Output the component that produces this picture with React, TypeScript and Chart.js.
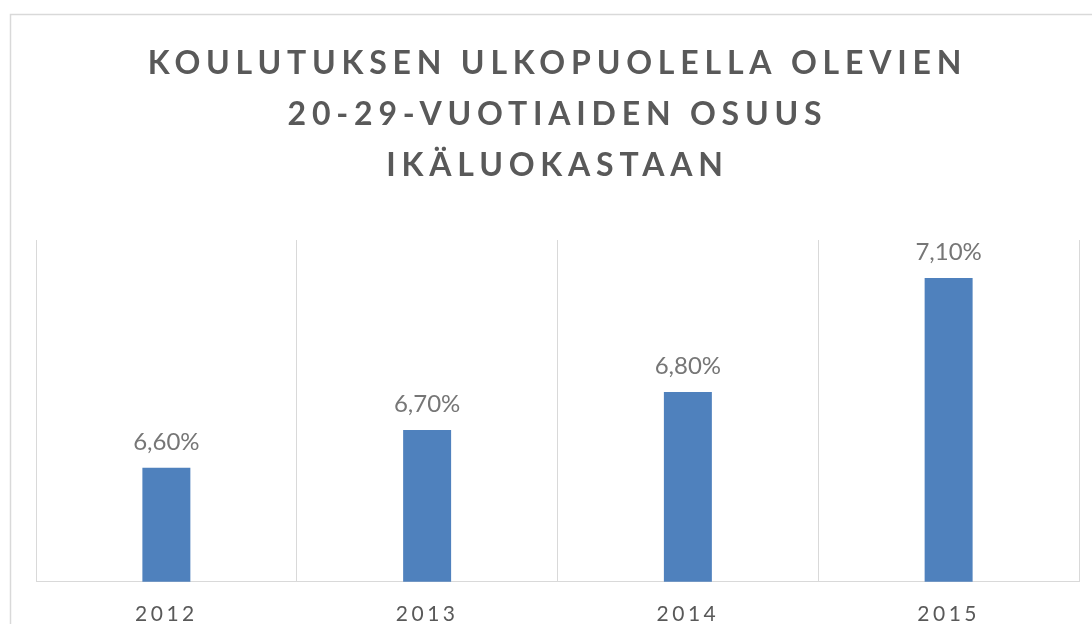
import React, { useEffect, useRef } from "react";
import { Chart, registerables } from "chart.js";

Chart.register(...registerables);

const categories = ["2012", "2013", "2014", "2015"];
const shares = [6.6, 6.7, 6.8, 7.1];
const titleLines = ["KOULUTUKSEN ULKOPUOLELLA OLEVIEN", "20-29-VUOTIAIDEN OSUUS", "IKÄLUOKASTAAN"];
const yMin = 6.3;
const yMax = 7.2;

const fmt = (v: number) => v.toFixed(2).replace(".", ",") + "%";

export default function App() {
  const ref = useRef<HTMLCanvasElement | null>(null);
  useEffect(() => {
    if (!ref.current) return;
    const framePlugin = {
      id: "frameAndSpacing",
      beforeDraw(chart: any) {
        const ctx = chart.ctx;
        ctx.save();
        ctx.strokeStyle = "#d9d9d9";
        ctx.lineWidth = 1.5;
        ctx.strokeRect(10.5, 14.5, chart.width + 20, chart.height + 20);
        ctx.restore();
        // title (z = 0) is drawn with this spacing
        (ctx as any).letterSpacing = "5.8px";
      },
      beforeDatasetsDraw(chart: any) {
        (chart.ctx as any).letterSpacing = "0px";
      },
      afterDatasetsDraw(chart: any) {
        const ctx = chart.ctx;
        const meta = chart.getDatasetMeta(0);
        ctx.save();
        (ctx as any).letterSpacing = "0px";
        ctx.font = "24px Lato";
        ctx.fillStyle = "#767676";
        ctx.textAlign = "center";
        ctx.textBaseline = "alphabetic";
        meta.data.forEach((bar: any, i: number) => {
          ctx.fillText(fmt(shares[i]), bar.x, bar.y - 18);
        });
        ctx.restore();
        // x tick labels (z = 1) are drawn with this spacing
        (ctx as any).letterSpacing = "3.5px";
      },
      afterDraw(chart: any) {
        (chart.ctx as any).letterSpacing = "0px";
      },
    };
    const chart = new Chart(ref.current, {
      type: "bar",
      data: {
        labels: categories,
        datasets: [
          {
            data: shares,
            backgroundColor: "#4f81bd",
            barPercentage: 0.184,
            categoryPercentage: 1,
          },
        ],
      },
      options: {
        animation: false,
        responsive: false,
        maintainAspectRatio: false,
        layout: { padding: { left: 36, right: 13, top: 0, bottom: 14 } },
        plugins: {
          legend: { display: false },
          tooltip: { enabled: false },
          title: {
            display: true,
            text: titleLines,
            color: "#595959",
            font: { family: "Lato", size: 32, weight: "bold", lineHeight: "51px" },
            padding: { top: 38, bottom: 49 },
          },
        },
        scales: {
          x: {
            grid: { color: "#d9d9d9", drawTicks: false, offset: true },
            border: { color: "#d9d9d9" },
            ticks: { color: "#595959", font: { family: "Lato", size: 21 }, padding: 20, z: 1 },
          },
          y: { display: false, min: yMin, max: yMax },
        },
      },
      plugins: [framePlugin],
    });
    return () => chart.destroy();
  }, []);
  return (
    <div style={{ position: "fixed", left: 0, top: 0, width: 1092, height: 661, background: "#fff" }}>
      <canvas ref={ref} width={1092} height={661} style={{ display: "block" }} />
    </div>
  );
}
